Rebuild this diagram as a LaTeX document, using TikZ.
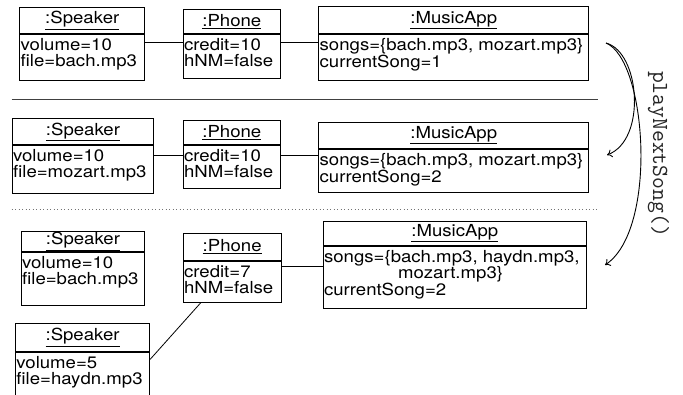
\documentclass[tikz,border=0pt]{standalone}
\usepackage{fontspec}
\setmainfont[FakeStretch=1.12]{TeX Gyre Heros}
\usetikzlibrary{arrows.meta,calc}
\newcommand\umlobj[8]{%
  \pgfmathsetmacro\uw{#3-#2}%
  \pgfmathsetmacro\uhh{#5-#4}%
  \pgfmathsetmacro\ubh{#6-#5}%
  \node[hdr, minimum width=\uw pt, minimum height=\uhh pt] (#1h) at (#2,#4) {\underline{#7}};
  \node[box, minimum width=\uw pt, minimum height=\ubh pt,
        label={[lbl]north west:{#8}}] (#1b) at (#1h.south west) {};
}
\begin{document}
\begin{tikzpicture}[x=1pt,y=-1pt,
  txt/.style={font=\fontsize{16.6}{16}\selectfont},
  box/.style={draw, line width=0.9pt, inner sep=0pt, anchor=north west, txt},
  hdr/.style={box},
  lbl/.style={anchor=north west, inner xsep=1.2pt, inner ysep=4.3pt, align=left, txt},
  conn/.style={line width=0.8pt},
  sepline/.style={line width=1pt, black!75},
  dotline/.style={line width=0.9pt, black!55, dash pattern=on 0.9pt off 2.6pt},
  callarrow/.style={line width=0.9pt, -{To[length=5pt,width=8pt]}}
]
\clip (0,0) rectangle (683,395);
\fill[white] (0,0) rectangle (683,395);

% state 1
\umlobj{sa}{19.3}{144.3}{6.7}{33.3}{79.3}{:Speaker}{volume=10\\file=bach.mp3}
\umlobj{pa}{182.7}{280}{9.3}{33.3}{77.3}{:Phone}{credit=10\\hNM=false}
\umlobj{ma}{318.3}{588.3}{6}{33.3}{79.3}{:MusicApp}{songs=\{bach.mp3, mozart.mp3\}\\currentSong=1}
\draw[conn] (sab.east |- 0,42.5) -- (pab.west |- 0,42.5);
\draw[conn] (pab.east |- 0,42.5) -- (mab.west |- 0,42.5);

\draw[sepline] (11.7,99.5) -- (598,99.5);

% state 2
\umlobj{sb}{11.7}{153.3}{118.3}{144.3}{191.7}{:Speaker}{volume=10\\file=mozart.mp3}
\umlobj{pb}{182.7}{280}{120}{144.3}{187.3}{:Phone}{credit=10\\hNM=false}
\umlobj{mb}{318.3}{588.3}{121.7}{147.7}{190.7}{:MusicApp}{songs=\{bach.mp3, mozart.mp3\}\\currentSong=2}
\draw[conn] (sbb.east |- 0,155) -- (pbb.west |- 0,155);
\draw[conn] (pbb.east |- 0,155) -- (mbb.west |- 0,155);

\draw[dotline] (11.7,209) -- (598,209);

% state 3
\umlobj{sc}{20.7}{144.3}{231}{250.7}{304}{:Speaker}{volume=10\\file=bach.mp3}
\umlobj{pc}{182.7}{280.7}{232.7}{260}{301}{:Phone}{credit=7\\hNM=false}
\umlobj{mc}{322.7}{586}{220.7}{245}{307.3}{:MusicApp}{songs=\{bach.mp3, haydn.mp3,\\\hspace*{74pt}mozart.mp3\}\\currentSong=2}
\umlobj{sd}{15}{149.3}{323.3}{350.7}{410}{:Speaker}{volume=5\\file=haydn.mp3}
\draw[conn] (pcb.east |- 0,266.7) -- (mcb.west |- 0,266.7);
\draw[conn] ($(pcb.south west)+(18,0)$) -- (sdb.east |- 0,359.3);

% call arrows
\coordinate (cstart) at (606,43);
\coordinate (cend1) at (607,155);
\coordinate (cend2) at (605,265);
\draw[callarrow] (cstart) .. controls (640,52) and (647,140) .. (cend1);
\draw[callarrow] (cstart) .. controls (647,60) and (658,230) .. (cend2);
\node[rotate=-90, font=\ttfamily\fontsize{23}{24}\selectfont, text=black!85, inner sep=0pt] (call) at (658.5,154) {playNextSong()};
\end{tikzpicture}
\end{document}
